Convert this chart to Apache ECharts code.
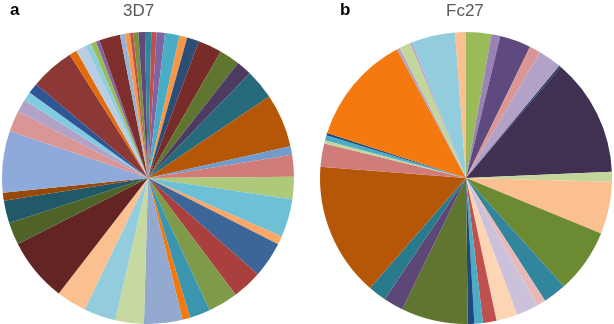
<!DOCTYPE html>
<html>
<head>
<meta charset="utf-8">
<script src="https://cdn.jsdelivr.net/npm/echarts@6/dist/echarts.min.js"></script>
<style>
  html, body { margin: 0; padding: 0; background: #fff; }
  #chart { width: 614px; height: 324px; }
</style>
</head>
<body>
<div id="chart"></div>
<script>
// 两个饼图的标题
var panelLetters = ['a', 'b'];
var pieTitles = ['3D7', 'Fc27'];

// 3D7 各扇区大小（从12点方向顺时针）
var values3D7 = [1.3, 2.1, 3.3, 5.8, 3.1, 4.8, 9.5, 8.2, 6.1, 11.9, 21.3, 3.4, 8.7, 9, 15.1, 3.4,
  14.2, 11.9, 11.9, 8.2, 3.1, 15.3, 11.4, 12.7, 12, 25.4, 8.9, 9, 3.2, 24.6, 8.3, 5.1, 3.6, 4.2,
  17.6, 3, 4, 2.4, 2.1, 1.5, 8.3, 2.1, 1.9, 1.3, 2, 2.6, 1.2];

// Fc27 各扇区大小
var valuesFc27 = [10.1, 3.5, 12.4, 4.5, 9.3, 0.7, 47, 4, 20.8, 25.6, 9.3, 3.6, 8.7, 8.4, 5.4, 3.4,
  2.6, 26.6, 7.9, 7.3, 53.3, 9.3, 1.3, 2, 1, 43.8, 1.2, 4.5, 0.8, 17.4, 4.3];

// 颜色
var colors3D7 = ['#31859C', '#C0504D', '#8064A2', '#4BACC6', '#F79646', '#2C4D75', '#772C2A',
  '#5F7530', '#4D3B62', '#276A7C', '#B65708', '#729ACA', '#D07C7A', '#AFC97A', '#6EC0D6',
  '#F9A868', '#3C6698', '#A9403D', '#7F9A48', '#3A95AE', '#F2790F', '#93A9CF', '#C6D9A0',
  '#93CDDD', '#FAC090', '#632523', '#4F6228', '#215968', '#984807', '#8EAADB', '#D99694',
  '#B3A2C7', '#7FCCE0', '#2F5597', '#8C3836', '#E36C09', '#B9CDE5', '#92CDDC', '#9BBB59',
  '#8064A2', '#7E2F2D', '#95B3D7', '#F79646', '#C0504D', '#77933C', '#604A7B', '#31859C'];

var colorsFc27 = ['#9BBB59', '#9983B5', '#5F4A7F', '#D99694', '#B3A2C7', '#1F3864', '#403152',
  '#C3D69B', '#FAC090', '#6C8A32', '#31859C', '#E6B9B8', '#CCC1DA', '#FCD5B5', '#C0504D',
  '#4BACC6', '#1F497D', '#5F7530', '#5C4776', '#2A7A8E', '#B65708', '#D07C7A', '#C3D69B',
  '#4BACC6', '#1F497D', '#F47A0F', '#B3A2C7', '#C3D69B', '#B3A2C7', '#93CDDD', '#FAC090'];

function toData(values, colors) {
  return values.map(function (v, i) {
    return { value: v, itemStyle: { color: colors[i] } };
  });
}

function pieSeries(name, values, colors, center) {
  return {
    name: name,
    type: 'pie',
    center: center,
    radius: 146,
    startAngle: 90,
    clockwise: true,
    avoidLabelOverlap: false,
    label: { show: false },
    labelLine: { show: false },
    itemStyle: { borderWidth: 0 },
    emphasis: { disabled: true },
    data: toData(values, colors)
  };
}

var letterStyle = { fontSize: 17, fontWeight: 'bold', color: '#000', fontFamily: 'Liberation Sans' };
var titleStyle = { fontSize: 17, fontWeight: 'normal', color: '#595959', fontFamily: 'Liberation Sans' };

echarts.init(document.getElementById('chart')).setOption({
  animation: false,
  title: [
    { text: panelLetters[0], left: 10, top: 2, padding: 0, textStyle: letterStyle },
    { text: pieTitles[0], left: 123, top: 3, padding: 0, textStyle: titleStyle },
    { text: panelLetters[1], left: 340, top: 2, padding: 0, textStyle: letterStyle },
    { text: pieTitles[1], left: 446, top: 3, padding: 0, textStyle: titleStyle }
  ],
  series: [
    pieSeries(pieTitles[0], values3D7, colors3D7, [148, 178]),
    pieSeries(pieTitles[1], valuesFc27, colorsFc27, [466, 178])
  ]
});
</script>
</body>
</html>
